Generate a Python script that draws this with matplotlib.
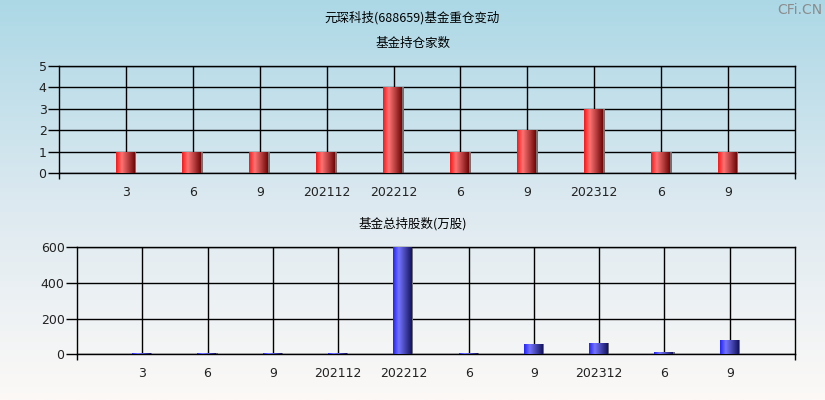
import numpy as np
import matplotlib
matplotlib.use('Agg')
import matplotlib.pyplot as plt
from matplotlib.colors import LinearSegmentedColormap

plt.rcParams['font.family'] = ['Noto Sans CJK SC', 'DejaVu Sans']

# data
categories = ['3', '6', '9', '202112', '202212', '6', '9', '202312', '6', '9']
fund_count = [1, 1, 1, 1, 4, 1, 2, 3, 1, 1]
fund_shares = [6, 6, 6, 6, 600, 6, 58, 63, 12, 80]

title = '元琛科技(688659)基金重仓变动'
title1 = '基金持仓家数'
title2 = '基金总持股数(万股)'

cmap_red = LinearSegmentedColormap.from_list('r', [(0, '#ff1515'), (0.3, '#ff7474'), (1, '#6e0808')])
cmap_blue = LinearSegmentedColormap.from_list('b', [(0, '#2222ff'), (0.3, '#7474ff'), (1, '#14145e')])

fig = plt.figure(figsize=(8.25, 4), dpi=100)

# fond dégradé
bg = fig.add_axes([0, 0, 1, 1], zorder=-10)
grad = np.linspace(0, 1, 256).reshape(-1, 1)
bg_cmap = LinearSegmentedColormap.from_list('bg', ['#acd8e6', '#dce9f0', '#fcf9f7'])
bg.imshow(grad, aspect='auto', cmap=bg_cmap, extent=[0, 1, 0, 1], origin='upper')
bg.set_axis_off()

fig.text(0.5, 1 - 18 / 400, title, ha='center', va='center', fontsize=9)
fig.text(0.5, 1 - 43 / 400, title1, ha='center', va='center', fontsize=9)
fig.text(0.5, 1 - 224 / 400, title2, ha='center', va='center', fontsize=9)
fig.text(0.997, 1 - 10 / 400, 'CFi.CN', ha='right', va='center', fontsize=10,
         color='#8c8c8c', family='DejaVu Sans')


def draw(ax, vals, ymax, yticks, cmap):
    x = np.arange(1, len(vals) + 1)
    ax.set_facecolor('none')
    ax.bar(x, vals, width=0.31, color='#707070', zorder=2)
    bars = ax.bar(x - 0.155, vals, width=0.28, align='edge', color='none', zorder=3)
    g = np.linspace(0, 1, 64).reshape(1, -1)
    for b in bars:
        x0 = b.get_x()
        w = b.get_width()
        h = b.get_height()
        im = ax.imshow(g, extent=[x0, x0 + w, 0, h], aspect='auto', cmap=cmap, zorder=3)
        im.set_clip_path(b)
    ax.set_xlim(0, len(vals) + 1)
    ax.set_ylim(0, ymax)
    ax.set_yticks(yticks)
    ax.set_xticks(x, categories)
    ax.set_xticks([0, len(vals) + 1], minor=True)
    ax.tick_params(axis='x', which='major', length=0, pad=9, labelsize=9)
    ax.tick_params(axis='x', which='minor', length=4, width=1, direction='out')
    ax.tick_params(axis='y', length=8, width=1, pad=1, labelsize=9)
    ax.grid(True, which='major', color='black', linewidth=1)
    ax.set_axisbelow(True)
    for s in ax.spines.values():
        s.set_color('black')
        s.set_linewidth(1)
    for t in ax.get_xticklabels() + ax.get_yticklabels():
        t.set_family('DejaVu Sans')
        t.set_color('#222222')


ax1 = fig.add_axes([59 / 825, 1 - 173.3 / 400, 736 / 825, 107.3 / 400])
draw(ax1, fund_count, 5, [0, 1, 2, 3, 4, 5], cmap_red)

ax2 = fig.add_axes([77 / 825, 1 - 354.3 / 400, 718 / 825, 107.3 / 400])
draw(ax2, fund_shares, 600, [0, 200, 400, 600], cmap_blue)

fig.savefig('out.png', dpi=100)
